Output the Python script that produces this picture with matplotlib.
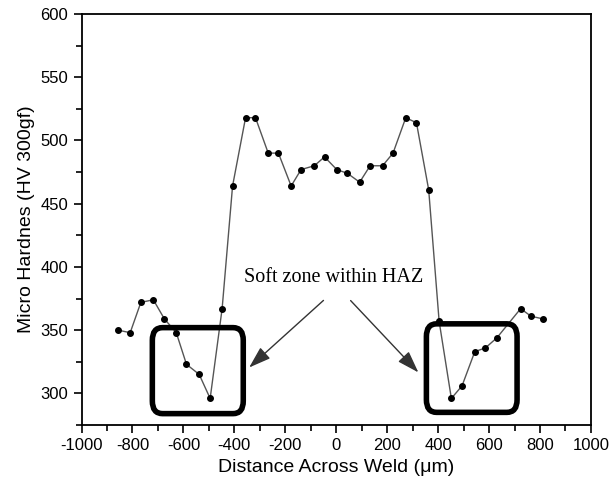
import matplotlib
matplotlib.use("Agg")
from matplotlib import pyplot as plt
from matplotlib.patches import FancyBboxPatch

# hardness traverse across the weld
distance = [-856, -809, -767, -718, -675, -628, -588, -538, -495, -448,
            -407, -356, -317, -267, -227, -177, -138, -86, -46, 2,
            44, 92, 133, 182, 223, 273, 315, 363, 404, 452,
            494, 544, 586, 631, 724, 765, 810]
hardness = [350, 348, 372, 374, 359, 348, 323, 315, 296, 367,
            464, 518, 518, 490, 490, 464, 477, 480, 487, 477,
            474, 467, 480, 480, 490, 518, 514, 461, 357, 296,
            306, 333, 336, 344, 367, 361, 359]

# soft zone boxes (x0, x1, y0, y1)
soft_zones = [(-722, -365, 284, 352), (354, 710, 285, 355)]
note_text = "Soft zone within HAZ"

plt.rcParams['font.family'] = ['Liberation Sans', 'DejaVu Sans']
plt.rcParams['axes.unicode_minus'] = False

fig = plt.figure(figsize=(6.13, 4.95), dpi=100)
ax = fig.add_axes([0.133, 0.1414, 0.831, 0.8303])

ax.plot(distance, hardness, '-', color='#555555', lw=1.0,
        marker='o', ms=4, mfc='black', mec='black')

for x0, x1, y0, y1 in soft_zones:
    box = FancyBboxPatch((x0, y0), x1 - x0, y1 - y0,
                         boxstyle="round,pad=0,rounding_size=40",
                         mutation_aspect=0.25,
                         fill=False, ec='black', lw=4, zorder=3)
    ax.add_patch(box)

ax.text(-11, 392, note_text, ha='center', va='center', fontsize=14.5,
        family=['Liberation Serif', 'DejaVu Serif'])
ax.annotate("", xy=(-350, 319), xytext=(-42, 375),
            arrowprops=dict(arrowstyle='-|>,head_length=0.9,head_width=0.3',
                            color='#333333', lw=1.0, mutation_scale=15))
ax.annotate("", xy=(330, 315), xytext=(49, 375),
            arrowprops=dict(arrowstyle='-|>,head_length=0.9,head_width=0.3',
                            color='#333333', lw=1.0, mutation_scale=15))

ax.set_xlim(-1000, 1000)
ax.set_ylim(275, 600)
ax.set_xticks(range(-1000, 1001, 200))
ax.set_xticks(range(-900, 1000, 200), minor=True)
ax.set_yticks(range(300, 601, 50))
ax.set_yticks(range(275, 600, 50), minor=True)
ax.tick_params(which='both', direction='out', labelsize=12, width=1.2)
ax.tick_params(which='major', length=6)
ax.tick_params(which='minor', length=4)
for s in ax.spines.values():
    s.set_linewidth(1.3)

ax.set_xlabel('Distance Across Weld (\u03bcm)', fontsize=14)
ax.set_ylabel('Micro Hardnes (HV 300gf)', fontsize=14)

fig.savefig('out.png', dpi=100)
